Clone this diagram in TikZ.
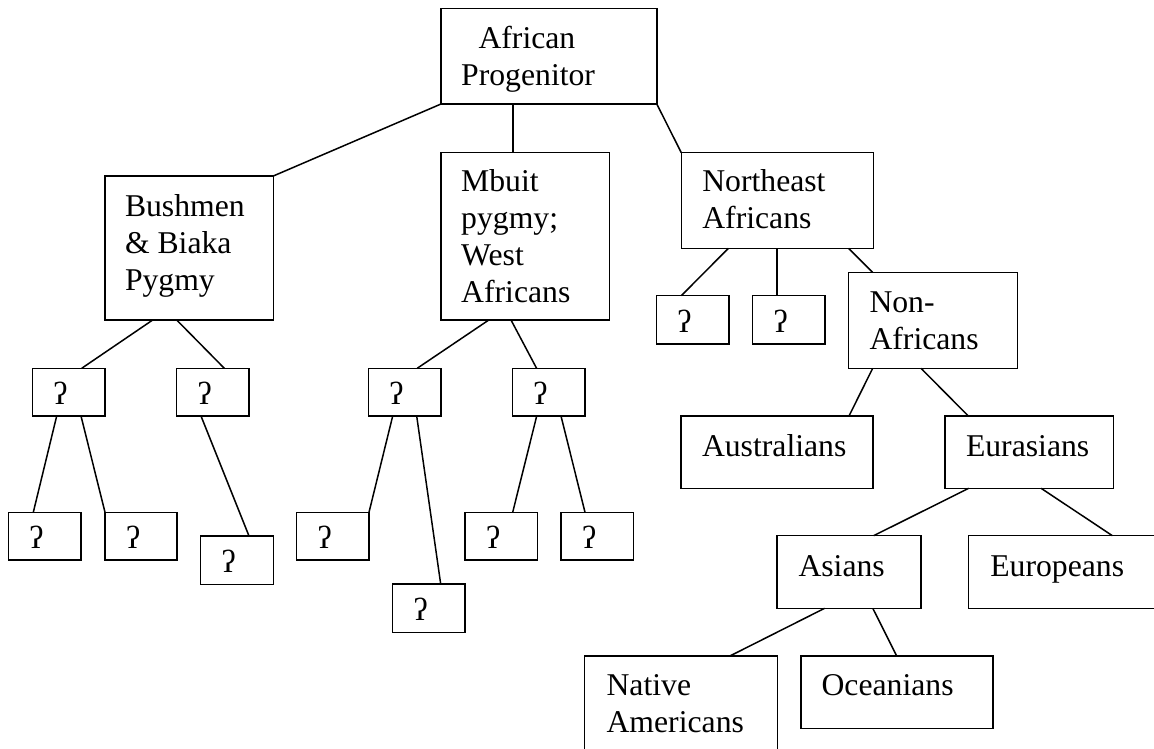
\documentclass[tikz,border=0pt]{standalone}
\usepackage{fontspec}
\setmainfont{Liberation Serif}
\newcommand\mainsize{\fontsize{31.7pt}{37pt}\selectfont}
\tikzset{
  box/.style={draw, line width=1.5pt, rectangle, inner sep=0pt, outer sep=0pt},
  conn/.style={line width=1.5pt},
  lbl/.style={anchor=north west, inner sep=0pt, outer sep=0pt, align=left, font=\mainsize},
  qt/.style={anchor=base west, inner sep=0pt, outer sep=0pt, font=\mainsize}
}
\newcommand\mkbox[5]{\node[box, minimum width={(#4)-(#2)}, minimum height={(#5)-(#3)}] (#1) at ({((#2)+(#4))/2},{((#3)+(#5))/2}) {};}
\newcommand\mktext[4]{\node[lbl] (#1) at (#2,{(#3)-25.9}) {\strut #4};}
\newcommand\mkq[1]{\node[qt] (#1-t) at ([xshift=21pt,yshift=11.5pt]#1.south west) {ʔ};}
\begin{document}
\begin{tikzpicture}[x=1pt,y=-1pt]
\useasboundingbox (0,0) rectangle (1154,749);
\clip (0,0) rectangle (1154,749);
\fill[white] (0,0) rectangle (1154,749);
% boxes
\mkbox{ap}{441}{8.3}{656.8}{104}
\mkbox{bush}{105}{176}{273.3}{320}
\mkbox{mb}{441}{152.7}{609.3}{320}
\mkbox{nea}{681.3}{152.7}{873.4}{248.3}
\mkbox{qA}{32.3}{368.3}{105}{416}
\mkbox{qB}{176.7}{368.3}{249}{416}
\mkbox{qC}{368.3}{368.3}{441}{416}
\mkbox{qD}{512.3}{368.3}{585}{416}
\mkbox{qE}{656.4}{295.7}{729.1}{344}
\mkbox{qF}{752.5}{295.7}{824.8}{344}
\mkbox{na}{848.3}{272.3}{1017.3}{368.3}
\mkbox{qAa}{8.3}{512.3}{81}{560}
\mkbox{qAb}{105}{512.3}{177}{560}
\mkbox{qBa}{200.7}{536}{273.3}{584.3}
\mkbox{qCa}{296.7}{512.3}{369}{560}
\mkbox{qCb}{392.7}{584}{465}{632.3}
\mkbox{qDa}{465}{512.3}{537.3}{560}
\mkbox{qDb}{561}{512.3}{633.3}{560}
\mkbox{aus}{681}{416}{872.8}{488.3}
\mkbox{eur}{945}{416}{1113.3}{488.3}
\mkbox{asi}{776.9}{535.7}{921}{608.3}
\mkbox{euro}{968.7}{535.7}{1170}{608.3}
\mkbox{nam}{584.7}{656}{777.3}{780}
\mkbox{oce}{800.8}{656}{993}{728.3}
% texts
\mktext{apt}{461.2}{48.3}{\kern17.3pt African\\Progenitor}
\mktext{busht}{125}{216}{Bushmen\\\& Biaka\\Pygmy}
\mktext{mbt}{461.2}{191.7}{Mbuit\\pygmy;\\West\\Africans}
\mktext{neat}{702.3}{191.7}{Northeast\\Africans}
\mktext{nat}{869.5}{312.5}{Non-\\Africans}
\mktext{aust}{702}{456.7}{Australians}
\mktext{eurt}{966}{456.7}{Eurasians}
\mktext{asit}{798.5}{576.7}{Asians}
\mktext{eurot}{990.3}{576.7}{Europeans}
\mktext{namt}{606.6}{695}{Native\\Americans}
\mktext{ocet}{821.6}{695}{Oceanians}
\mkq{qA}\mkq{qB}\mkq{qC}\mkq{qD}\mkq{qE}\mkq{qF}
\mkq{qAa}\mkq{qAb}\mkq{qBa}\mkq{qCa}\mkq{qCb}\mkq{qDa}\mkq{qDb}
% connectors
\draw[conn] (ap.south west) -- (bush.north east);
\draw[conn] ([xshift=71.9pt]ap.south west) -- ([xshift=71.9pt]mb.north west);
\draw[conn] (ap.south east) -- (nea.north west);
\draw[conn] ([xshift=47.7pt]bush.south west) -- ([xshift=49.4pt]qA.north west);
\draw[conn] ([xshift=71.7pt]bush.south west) -- ([xshift=47.6pt]qB.north west);
\draw[conn] ([xshift=47.8pt]mb.south west) -- ([xshift=48.9pt]qC.north west);
\draw[conn] ([xshift=70pt]mb.south west) -- ([xshift=24.3pt]qD.north west);
\draw[conn] ([xshift=47.1pt]nea.south west) -- ([xshift=24.9pt]qE.north west);
\draw[conn] ([xshift=95.7pt]nea.south west) -- ([xshift=24.5pt]qF.north west);
\draw[conn] ([xshift=167.3pt]nea.south west) -- ([xshift=24.3pt]na.north west);
\draw[conn] ([xshift=24.4pt]qA.south west) -- ([xshift=25pt]qAa.north west);
\draw[conn] ([xshift=48.7pt]qA.south west) -- (qAb.north west);
\draw[conn] ([xshift=24.3pt]qB.south west) -- ([xshift=48.3pt]qBa.north west);
\draw[conn] ([xshift=24.4pt]qC.south west) -- (qCa.north east);
\draw[conn] ([xshift=48.4pt]qC.south west) -- ([xshift=48pt]qCb.north west);
\draw[conn] ([xshift=24.4pt]qD.south west) -- ([xshift=47.7pt]qDa.north west);
\draw[conn] ([xshift=48.7pt]qD.south west) -- ([xshift=24pt]qDb.north west);
\draw[conn] ([xshift=24.4pt]na.south west) -- ([xshift=168pt]aus.north west);
\draw[conn] ([xshift=72.7pt]na.south west) -- ([xshift=23.3pt]eur.north west);
\draw[conn] ([xshift=23.7pt]eur.south west) -- ([xshift=96.7pt]asi.north west);
\draw[conn] ([xshift=96.1pt]eur.south west) -- ([xshift=143.7pt]euro.north west);
\draw[conn] ([xshift=47.7pt]asi.south west) -- ([xshift=145.2pt]nam.north west);
\draw[conn] ([xshift=95.9pt]asi.south west) -- ([xshift=95.9pt]oce.north west);
\end{tikzpicture}
\end{document}
